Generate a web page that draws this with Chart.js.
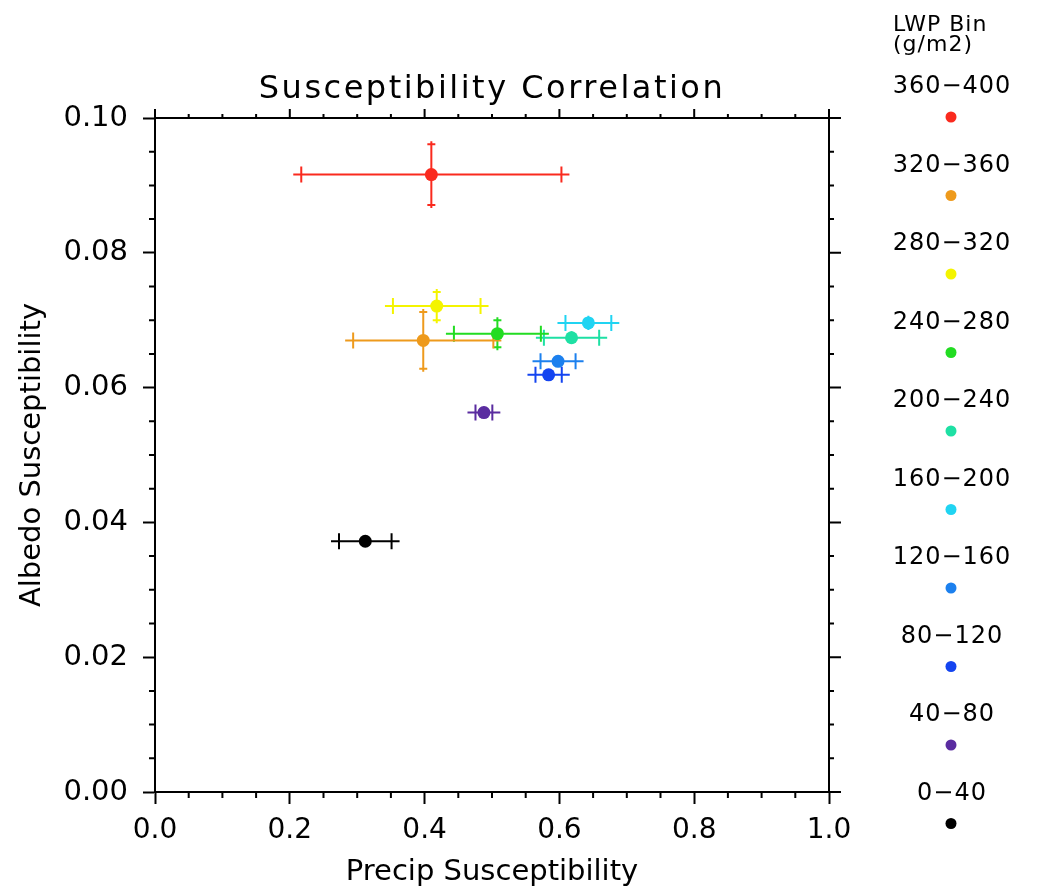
<!DOCTYPE html>
<html>
<head>
<meta charset="utf-8">
<title>Susceptibility Correlation</title>
<script src="https://cdn.jsdelivr.net/npm/chart.js@4.4.1/dist/chart.umd.min.js"></script>
<style>
    html, body { margin: 0; padding: 0; background: #ffffff; }
    #wrap { width: 1042px; height: 890px; }
</style>
</head>
<body>
<div id="wrap"><canvas id="myChart" width="1042" height="890"></canvas></div>
<script>
"use strict";

// LWP bins, lowest first
const bins = ["0−40", "40−80", "80−120", "120−160", "160−200", "200−240", "240−280", "280−320", "320−360", "360−400"];
const binColors = ["#000000", "#5a2ca0", "#1444f0", "#1c80ee", "#20d4f2", "#1ee0a4", "#22dc22", "#f4f400", "#ee9a1c", "#fa2a1e"];

const precip = [0.312, 0.488, 0.584, 0.598, 0.643, 0.618, 0.508, 0.418, 0.398, 0.410];
const albedo = [0.0372, 0.0563, 0.0619, 0.0639, 0.0696, 0.0674, 0.0680, 0.0721, 0.0670, 0.0916];
const precipErr = [0.039, 0.0125, 0.0195, 0.026, 0.034, 0.041, 0.0645, 0.065, 0.104, 0.193];
const albedoErr = [0.0003, 0.0004, 0.0004, 0.0004, 0.0006, 0.0005, 0.0020, 0.0021, 0.0042, 0.0045];

const xTicks = [0.0, 0.2, 0.4, 0.6, 0.8, 1.0];
const yTicks = [0.00, 0.02, 0.04, 0.06, 0.08, 0.10];

const FONT = "'DejaVu Sans', sans-serif";

// error bars, drawn under the points
const errorBars = {
    id: "errorBars",
    beforeDatasetsDraw(chart) {
        const ctx = chart.ctx;
        const xs = chart.scales.x;
        const ys = chart.scales.y;
        ctx.save();
        ctx.lineWidth = 2;
        for (let i = 0; i < bins.length; i++) {
            const cx = xs.getPixelForValue(precip[i]);
            const cy = ys.getPixelForValue(albedo[i]);
            const x0 = xs.getPixelForValue(precip[i] - precipErr[i]);
            const x1 = xs.getPixelForValue(precip[i] + precipErr[i]);
            const y0 = ys.getPixelForValue(albedo[i] - albedoErr[i]);
            const y1 = ys.getPixelForValue(albedo[i] + albedoErr[i]);
            ctx.strokeStyle = binColors[i];
            ctx.beginPath();
            ctx.moveTo(x0 - 8, cy);
            ctx.lineTo(x1 + 8, cy);
            ctx.moveTo(x0, cy - 8);
            ctx.lineTo(x0, cy + 8);
            ctx.moveTo(x1, cy - 8);
            ctx.lineTo(x1, cy + 8);
            ctx.moveTo(cx, y0 + 3);
            ctx.lineTo(cx, y1 - 3);
            ctx.moveTo(cx - 4, y0);
            ctx.lineTo(cx + 4, y0);
            ctx.moveTo(cx - 4, y1);
            ctx.lineTo(cx + 4, y1);
            ctx.stroke();
        }
        ctx.restore();
    },
};

// IDL style box: minor ticks and the top / right axes
const frame = {
    id: "frame",
    afterDraw(chart) {
        const ctx = chart.ctx;
        const xs = chart.scales.x;
        const ys = chart.scales.y;
        const a = chart.chartArea;
        ctx.save();
        ctx.strokeStyle = "#000000";
        ctx.lineWidth = 2;
        ctx.beginPath();
        ctx.moveTo(a.left, a.top);
        ctx.lineTo(a.right, a.top);
        ctx.lineTo(a.right, a.bottom);
        for (let k = 0; k <= 20; k++) {
            const px = xs.getPixelForValue(k * 0.05);
            const major = k % 4 === 0;
            if (!major) {
                ctx.moveTo(px, a.bottom);
                ctx.lineTo(px, a.bottom + 6);
            }
            ctx.moveTo(px, a.top);
            ctx.lineTo(px, a.top - (major ? 9 : 4));
        }
        for (let k = 0; k <= 20; k++) {
            const py = ys.getPixelForValue(k * 0.005);
            const major = k % 4 === 0;
            if (!major) {
                ctx.moveTo(a.left, py);
                ctx.lineTo(a.left - 6, py);
            }
            ctx.moveTo(a.right, py);
            ctx.lineTo(a.right + (major ? 12 : 5), py);
        }
        ctx.stroke();

        // title
        ctx.fillStyle = "#000000";
        ctx.textAlign = "center";
        ctx.textBaseline = "middle";
        ctx.letterSpacing = "2.5px";
        ctx.font = "32px " + FONT;
        ctx.fillText("Susceptibility Correlation", (a.left + a.right) / 2, 90);

        // colour key
        ctx.letterSpacing = "1px";
        ctx.textAlign = "left";
        ctx.font = "22px " + FONT;
        ctx.fillText("LWP Bin", 893, 25);
        ctx.fillText("(g/m2)", 893, 45);
        ctx.textAlign = "center";
        ctx.font = "24px " + FONT;
        for (let i = 0; i < bins.length; i++) {
            const row = bins.length - 1 - i;
            const ty = 87 + row * 78.5;
            ctx.fillStyle = "#000000";
            ctx.fillText(bins[i], 952, ty);
            ctx.fillStyle = binColors[i];
            ctx.beginPath();
            ctx.arc(951, ty + 30, 5.5, 0, Math.PI * 2);
            ctx.fill();
        }
        ctx.restore();
    },
};

const renderChart = () => {
    const ctx = document.getElementById("myChart").getContext("2d");

    const datasets = bins.map((bin, i) => ({
        label: bin,
        data: [{ x: precip[i], y: albedo[i] }],
        backgroundColor: binColors[i],
        borderColor: binColors[i],
        pointRadius: 6.5,
        pointBorderWidth: 0,
    }));

    new Chart(ctx, {
        type: "scatter",
        data: { datasets: datasets },
        options: {
            responsive: false,
            animation: false,
            events: [],
            layout: {
                padding: { top: 118, right: 213, left: 0, bottom: 0 },
            },
            plugins: {
                legend: { display: false },
                tooltip: { enabled: false },
            },
            scales: {
                x: {
                    type: "linear",
                    min: 0,
                    max: 1,
                    afterFit: (scale) => { scale.height = 98; },
                    afterBuildTicks: (scale) => {
                        scale.ticks = xTicks.map((v) => ({ value: v }));
                    },
                    border: { display: true, color: "#000000", width: 2 },
                    grid: {
                        drawOnChartArea: false,
                        drawTicks: true,
                        tickLength: 12,
                        tickColor: "#000000",
                        tickWidth: 2,
                    },
                    ticks: {
                        color: "#000000",
                        font: { family: FONT, size: 28 },
                        padding: 10,
                        maxRotation: 0,
                        callback: (v) => v.toFixed(1),
                    },
                    title: {
                        display: true,
                        text: "Precip Susceptibility",
                        color: "#000000",
                        font: { family: FONT, size: 29 },
                        padding: { top: 0, bottom: 0 },
                    },
                },
                y: {
                    type: "linear",
                    min: 0,
                    max: 0.1,
                    afterFit: (scale) => { scale.width = 155; },
                    afterBuildTicks: (scale) => {
                        scale.ticks = yTicks.map((v) => ({ value: v }));
                    },
                    border: { display: true, color: "#000000", width: 2 },
                    grid: {
                        drawOnChartArea: false,
                        drawTicks: true,
                        tickLength: 12,
                        tickColor: "#000000",
                        tickWidth: 2,
                    },
                    ticks: {
                        color: "#000000",
                        font: { family: FONT, size: 29 },
                        padding: 15,
                        callback: (v) => v.toFixed(2),
                    },
                    title: {
                        display: true,
                        text: "Albedo Susceptibility",
                        color: "#000000",
                        font: { family: FONT, size: 29 },
                        padding: { top: 15, bottom: 0 },
                    },
                },
            },
        },
        plugins: [errorBars, frame],
    });
};

window.onload = () => {
    renderChart();
};
</script>
</body>
</html>
